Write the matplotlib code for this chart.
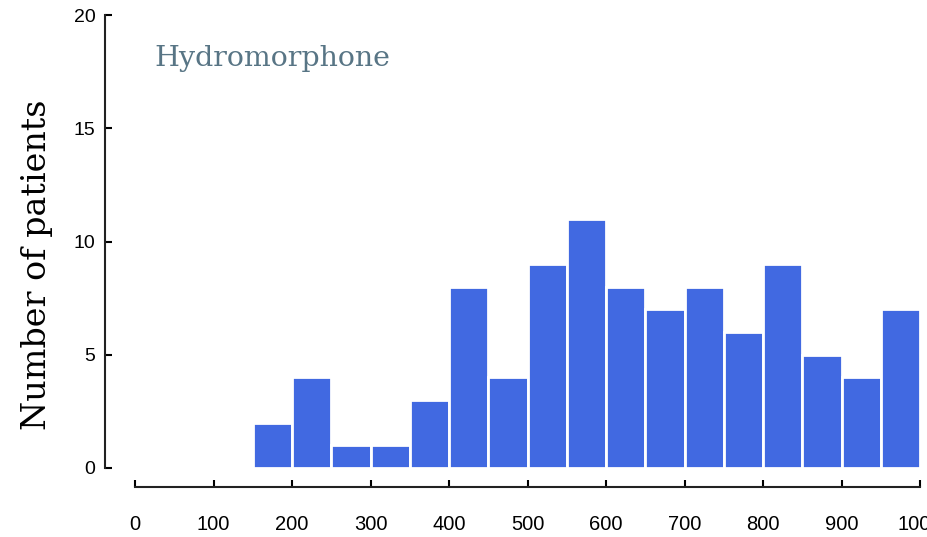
import numpy as np
import matplotlib.pyplot as plt

# histogram bins (mg) and counts
bin_left = [150, 200, 250, 300, 350, 400, 450, 500, 550, 600, 650, 700, 750, 800, 850, 900, 950]
counts = [2, 4, 1, 1, 3, 8, 4, 9, 11, 8, 7, 8, 6, 9, 5, 4, 7]
bin_width = 50
x_ticks = [0, 100, 200, 300, 400, 500, 600, 700, 800, 900, 1000]
y_ticks = [0, 5, 10, 15, 20]

fig = plt.figure(figsize=(9.28, 5.37), dpi=100)
ax = fig.add_axes([0.1455, 0.1285, 0.8459, 0.8435])

ax.bar(bin_left, counts, width=bin_width, align="edge",
       color="#4169e1", edgecolor="white", linewidth=2)

ax.set_xlim(0, 1000)
ax.set_ylim(0, 20)
ax.set_xticks(x_ticks)
ax.set_yticks(y_ticks)

for s in ["top", "right"]:
    ax.spines[s].set_visible(False)
# axes are detached from the data area in the original
ax.spines["left"].set_position(("outward", 21.6))
ax.spines["bottom"].set_position(("outward", 13.7))
for s in ["left", "bottom"]:
    ax.spines[s].set_linewidth(1.5)
    ax.spines[s].set_color("#222222")

ax.tick_params(axis="y", direction="in", length=5, width=1.5, pad=7,
               labelsize=14, labelfontfamily="Liberation Sans")
ax.tick_params(axis="x", direction="in", length=5, width=1.5, pad=20,
               labelsize=14.5, labelfontfamily="Liberation Sans")

ax.set_ylabel("Number of patients", family="DejaVu Serif", fontsize=24)
ax.yaxis.set_label_coords(-0.105, 0.448)
ax.text(0.025, 0.905, "Hydromorphone", transform=ax.transAxes,
        family="DejaVu Serif", fontsize=20.5, color="#587585", va="center")

fig.savefig("out.png", dpi=100)
